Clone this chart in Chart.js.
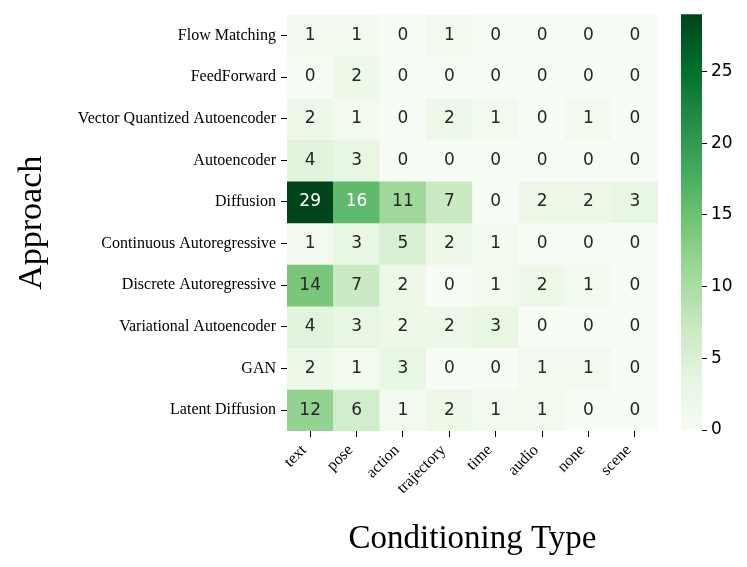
<!DOCTYPE html>
<html lang="en">
<head>
  <meta charset="UTF-8">
  <title>Approach vs Conditioning Type</title>
  <script src="https://cdn.jsdelivr.net/npm/chart.js"></script>
  <style>
    html, body { margin: 0; padding: 0; background: #fff; }
    .wrap { position: relative; width: 747px; height: 567px; }
    #heatmap { position: absolute; left: 0; top: 0; }
    #colorbar { position: absolute; left: 660px; top: 0; }
  </style>
</head>
<body>
  <div class="wrap">
    <canvas id="heatmap" width="747" height="567"></canvas>
    <canvas id="colorbar" width="87" height="567"></canvas>
  </div>

  <script>
    // rows and columns of the heatmap
    const approaches = [
      'Flow Matching', 'FeedForward', 'Vector Quantized Autoencoder', 'Autoencoder',
      'Diffusion', 'Continuous Autoregressive', 'Discrete Autoregressive',
      'Variational Autoencoder', 'GAN', 'Latent Diffusion'
    ];
    const conditioning = ['text', 'pose', 'action', 'trajectory', 'time', 'audio', 'none', 'scene'];

    // counts per approach, in the column order above
    const flowMatching   = [1, 1, 0, 1, 0, 0, 0, 0];
    const feedForward    = [0, 2, 0, 0, 0, 0, 0, 0];
    const vqAutoencoder  = [2, 1, 0, 2, 1, 0, 1, 0];
    const autoencoder    = [4, 3, 0, 0, 0, 0, 0, 0];
    const diffusion      = [29, 16, 11, 7, 0, 2, 2, 3];
    const contAutoreg    = [1, 3, 5, 2, 1, 0, 0, 0];
    const discAutoreg    = [14, 7, 2, 0, 1, 2, 1, 0];
    const vaeAutoencoder = [4, 3, 2, 2, 3, 0, 0, 0];
    const gan            = [2, 1, 3, 0, 0, 1, 1, 0];
    const latentDiff     = [12, 6, 1, 2, 1, 1, 0, 0];
    const counts = [flowMatching, feedForward, vqAutoencoder, autoencoder, diffusion,
                    contAutoreg, discAutoreg, vaeAutoencoder, gan, latentDiff];

    const colorbarTicks = [0, 5, 10, 15, 20, 25];
    const vmin = 0;
    const vmax = 29;

    // matplotlib "Greens"
    const greensStops = ['#f7fcf5', '#e5f5e0', '#c7e9c0', '#a1d99b', '#74c476',
                         '#41ab5d', '#238b45', '#006d2c', '#00441b'];

    function hexRgb(h) {
      return [parseInt(h.slice(1, 3), 16), parseInt(h.slice(3, 5), 16), parseInt(h.slice(5, 7), 16)];
    }

    function greensRgb(t) {
      t = Math.max(0, Math.min(1, t));
      const pos = t * (greensStops.length - 1);
      const i = Math.min(Math.floor(pos), greensStops.length - 2);
      const f = pos - i;
      const a = hexRgb(greensStops[i]), b = hexRgb(greensStops[i + 1]);
      return a.map((v, k) => Math.round(v + (b[k] - v) * f));
    }

    function cellColor(v) {
      const c = greensRgb((v - vmin) / (vmax - vmin));
      return 'rgb(' + c.join(',') + ')';
    }

    // same rule seaborn uses to pick light or dark annotation text
    function textColor(v) {
      const lin = greensRgb((v - vmin) / (vmax - vmin)).map(x => {
        x = x / 255;
        return x <= 0.03928 ? x / 12.92 : Math.pow((x + 0.055) / 1.055, 2.4);
      });
      const lum = 0.2126 * lin[0] + 0.7152 * lin[1] + 0.0722 * lin[2];
      return lum > 0.408 ? '#262626' : '#ffffff';
    }

    // writes the count in the middle of every cell
    const cellLabels = {
      id: 'cellLabels',
      afterDatasetsDraw(chart) {
        const ctx = chart.ctx;
        ctx.save();
        ctx.font = '17px "DejaVu Sans"';
        ctx.textAlign = 'center';
        ctx.textBaseline = 'middle';
        chart.data.datasets.forEach((ds, r) => {
          chart.getDatasetMeta(r).data.forEach((bar, c) => {
            const v = counts[r][c];
            ctx.fillStyle = textColor(v);
            ctx.fillText(String(v), bar.x, (bar.y + bar.base) / 2);
          });
        });
        ctx.restore();
      }
    };

    const serif = 'Liberation Serif';

    // one floating-bar dataset per row
    const datasets = counts.map((row, r) => ({
      label: approaches[r],
      data: row.map(() => [r, r + 1]),
      backgroundColor: row.map(cellColor),
      borderWidth: 0,
      grouped: false,
      barPercentage: 1,
      categoryPercentage: 1
    }));

    new Chart(document.getElementById('heatmap'), {
      type: 'bar',
      data: { labels: conditioning, datasets: datasets },
      options: {
        responsive: false,
        animation: false,
        devicePixelRatio: 1,
        layout: { padding: { top: 12, right: 89, bottom: 0, left: 0 } },
        plugins: {
          legend: { display: false },
          tooltip: { enabled: false }
        },
        scales: {
          x: {
            type: 'category',
            offset: true,
            afterFit: s => { s.height = 136; },
            ticks: {
              font: { family: serif, size: 16 },
              color: '#000',
              maxRotation: 45,
              minRotation: 45,
              padding: 4,
              labelOffset: -6,
              autoSkip: false
            },
            grid: { offset: false, drawOnChartArea: false, tickLength: 6, color: '#000' },
            border: { display: false },
            title: {
              display: true,
              text: 'Conditioning Type',
              font: { family: serif, size: 33 },
              color: '#000',
              padding: { top: 0, bottom: 8 }
            }
          },
          y: {
            type: 'linear',
            min: 0,
            max: approaches.length,
            reverse: true,
            afterBuildTicks: s => { s.ticks = approaches.map((_, i) => ({ value: i + 0.5 })); },
            afterFit: s => { s.width = 287; },
            ticks: {
              callback: (v, i) => approaches[i],
              font: { family: serif, size: 16 },
              color: '#000',
              padding: 5,
              autoSkip: false
            },
            grid: { drawOnChartArea: false, tickLength: 6, color: '#000' },
            border: { display: false },
            title: {
              display: true,
              text: 'Approach',
              font: { family: serif, size: 34 },
              color: '#000',
              padding: { top: 12, bottom: 0 }
            }
          }
        }
      },
      plugins: [cellLabels]
    });

    // colour bar: a single bar filled with the Greens gradient
    new Chart(document.getElementById('colorbar'), {
      type: 'bar',
      data: {
        labels: [''],
        datasets: [{
          data: [[vmin, vmax]],
          backgroundColor: (c) => {
            const area = c.chart.chartArea;
            if (!area) return greensStops[4];
            const g = c.chart.ctx.createLinearGradient(0, area.bottom, 0, area.top);
            greensStops.forEach((col, i) => g.addColorStop(i / (greensStops.length - 1), col));
            return g;
          },
          borderWidth: 0,
          barPercentage: 1,
          categoryPercentage: 1
        }]
      },
      options: {
        responsive: false,
        animation: false,
        devicePixelRatio: 1,
        layout: { padding: { top: 12, right: 0, bottom: 137, left: 21 } },
        plugins: {
          legend: { display: false },
          tooltip: { enabled: false }
        },
        scales: {
          x: { display: false },
          y: {
            position: 'right',
            min: vmin,
            max: vmax,
            afterBuildTicks: s => { s.ticks = colorbarTicks.map(v => ({ value: v })); },
            afterFit: s => { s.width = 45; },
            ticks: { font: { family: 'DejaVu Sans', size: 17 }, color: '#000', padding: 4 },
            grid: { drawOnChartArea: false, tickLength: 5, color: '#000' },
            border: { display: false }
          }
        }
      }
    });
  </script>
</body>
</html>
